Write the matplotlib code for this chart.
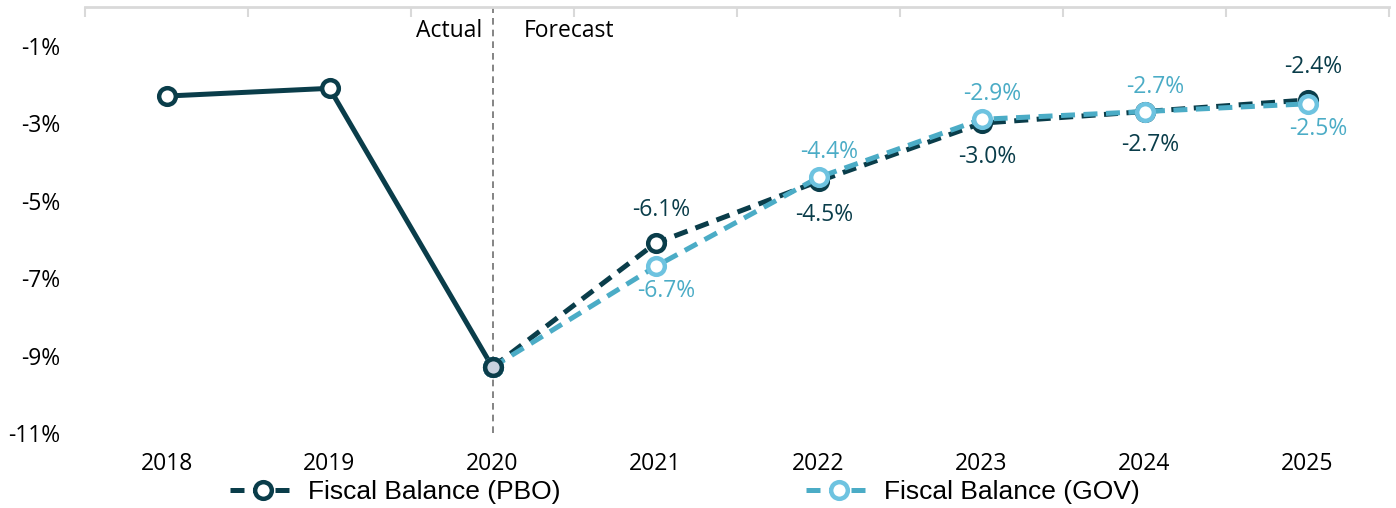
import numpy as np
import matplotlib.pyplot as plt
from matplotlib.ticker import FixedLocator

years = [2018, 2019, 2020, 2021, 2022, 2023, 2024, 2025]
pbo = [-2.3, -2.1, -9.3, -6.1, -4.5, -3.0, -2.7, -2.4]
gov = [np.nan, np.nan, -9.3, -6.7, -4.4, -2.9, -2.7, -2.5]
pbo_labels = ['', '', '', '-6.1%', '-4.5%', '-3.0%', '-2.7%', '-2.4%']
gov_labels = ['', '', '', '-6.7%', '-4.4%', '-2.9%', '-2.7%', '-2.5%']
# label placement: +1 above the point, -1 below
pbo_side = [0, 0, 0, 1, -1, -1, -1, 1]
gov_side = [0, 0, 0, -1, 1, 1, 1, -1]
yticks = [-11, -9, -7, -5, -3, -1]

dark = '#0A3D4A'
light = '#4BACC6'
light_edge = '#6EC3E0'
lab_font = ['Open Sans', 'DejaVu Sans']
fs = 16.5

fig = plt.figure(figsize=(13.96, 5.08), dpi=100)
ax = fig.add_axes([85 / 1396, 1 - 433 / 508, (1389 - 85) / 1396, (433 - 7) / 508])

x = np.arange(len(years))
split = years.index(2020)
dash = (2.8, 1.7)

# actual (solid) and forecast (dashed) parts
ax.plot(x[:split + 1], pbo[:split + 1], color=dark, lw=3.6, zorder=3,
        marker='o', ms=12, mfc='white', mec=dark, mew=3.2)
ax.plot(x[split:], pbo[split:], color=dark, lw=3.6, dashes=dash, zorder=3,
        marker='o', ms=12, mfc='white', mec=dark, mew=3.2, label='Fiscal Balance (PBO)')
ax.plot(x[split:], gov[split:], color=light, lw=3.6, dashes=dash, zorder=4,
        marker='o', ms=12, mfc='white', mec=light_edge, mew=3.2, label='Fiscal Balance (GOV)')
# overlap point in 2020
ax.plot(x[split], pbo[split], 'o', ms=12, mfc='#C9D3E0', mec=dark, mew=3.2, zorder=5)

for i in range(len(years)):
    if pbo_labels[i]:
        ax.annotate(pbo_labels[i], (x[i], pbo[i]), xytext=(4, 24 * pbo_side[i]),
                    textcoords='offset points', ha='center', va='center',
                    color=dark, fontsize=fs, family=lab_font)
    if gov_labels[i]:
        ax.annotate(gov_labels[i], (x[i], gov[i]), xytext=(8, 18 * gov_side[i]),
                    textcoords='offset points', ha='center', va='center',
                    color=light, fontsize=fs, family=lab_font)

# actual / forecast divider
ax.axvline(split, color='#707070', lw=1.2, ls=(0, (4, 3)), zorder=1)
ax.text(split - 0.06, -0.62, 'Actual', ha='right', va='center', fontsize=fs,
        family=lab_font, color='black')
ax.text(split + 0.19, -0.62, 'Forecast', ha='left', va='center', fontsize=fs,
        family=lab_font, color='black')

ax.set_xlim(-0.5, len(years) - 0.5)
ax.set_ylim(-11, 0)
ax.set_yticks(yticks)
ax.set_yticklabels(['%d%%' % v for v in yticks], family=lab_font, fontsize=fs)
ax.set_xticks(x)
ax.set_xticklabels([str(y) for y in years], family=lab_font, fontsize=fs)
ax.tick_params(axis='y', length=0, pad=18)
ax.tick_params(axis='x', which='major', length=0, pad=14)

for s in ['left', 'right', 'bottom']:
    ax.spines[s].set_visible(False)
ax.spines['top'].set_color('#D9D9D9')
ax.spines['top'].set_linewidth(2)
ax.xaxis.set_minor_locator(FixedLocator(np.arange(-0.5, len(years), 1)))
ax.tick_params(axis='x', which='minor', top=True, bottom=False, direction='in',
               length=7, width=1.5, color='#D9D9D9')

fig.legend(loc='center', bbox_to_anchor=(685 / 1396, 1 - 492 / 508), ncol=2, frameon=False,
           prop={'family': 'Liberation Sans', 'size': 19}, handlelength=2.5,
           columnspacing=9.3, handletextpad=0.45, borderpad=0)

fig.savefig('out.png', dpi=100)
